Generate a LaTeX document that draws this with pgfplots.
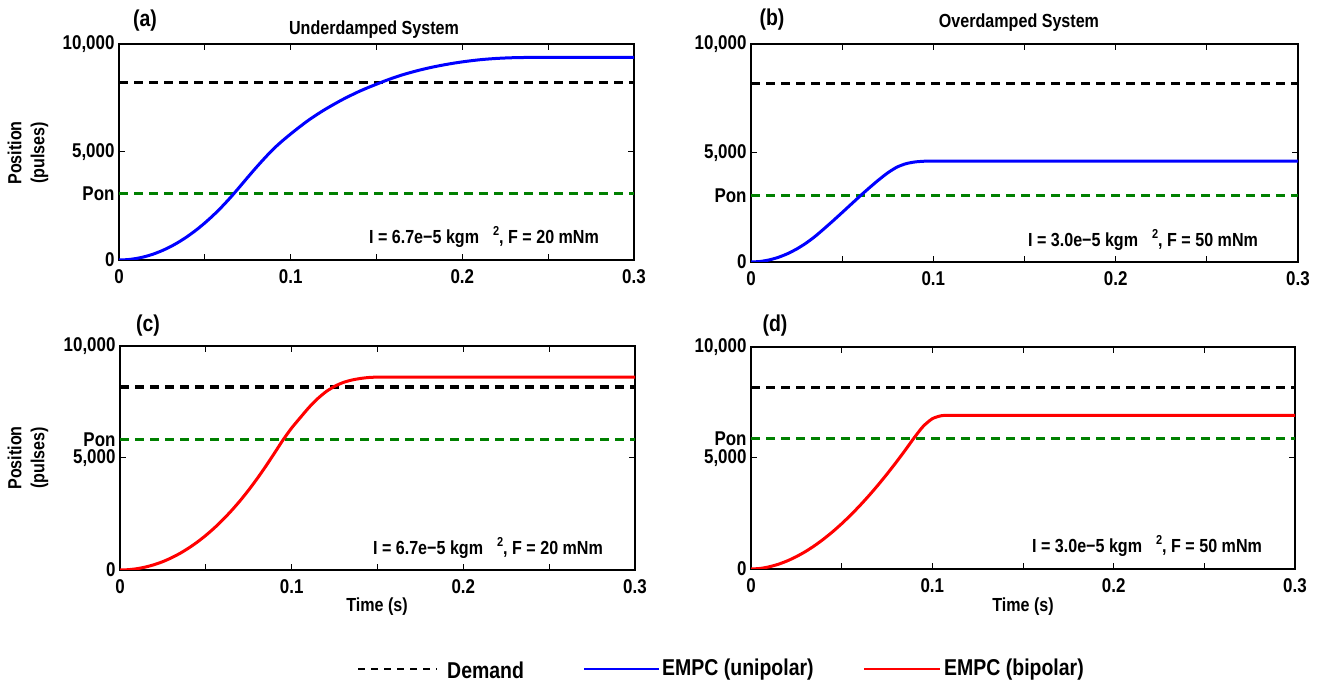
\documentclass[border=0pt]{standalone}
\usepackage{pgfplots}
\pgfplotsset{compat=1.18}
\usepackage{fontspec}
\setmainfont{Liberation Sans}[FakeStretch=0.85]
\definecolor{dgreen}{RGB}{0,128,0}
\newcommand{\fs}{\fontsize{19}{23}\selectfont\bfseries}
\newcommand{\ft}{\fontsize{20}{23}\selectfont\bfseries}
\newcommand{\fg}{\fontsize{23}{26}\selectfont\bfseries}
\newcommand{\fl}{\fontsize{23}{26}\selectfont\bfseries}
\newcommand{\sq}{\raisebox{8bp}{\fontsize{13}{13}\selectfont 2}}

\pgfplotsset{
  panel/.style={
    scale only axis,
    anchor=south west,
    xmin=0, xmax=0.3, ymin=0, ymax=10000,
    scaled y ticks=false, scaled x ticks=false,
    xtick={0,0.05,0.1,0.15,0.2,0.25,0.3},
    xticklabels={0,,0.1,,0.2,,0.3},
    ytick={0,5000,10000},
    yticklabels={0,{5,000},{10,000}},
    major tick length=6bp,
    tick style={black, line width=1bp},
    axis line style={line width=1.2bp},
    tick label style={font=\ft},
    xticklabel style={yshift=-6bp},
    yticklabel style={xshift=-1bp},
    extra y tick style={major tick length=0pt},
  },
  demand/.style={black, line width=3.1bp, dash pattern=on 9bp off 6bp},
  pon/.style={dgreen, line width=3.1bp, dash pattern=on 9bp off 6bp},
  uni/.style={blue, line width=3bp, smooth, tension=0.4},
  bi/.style={red, line width=3bp, smooth, tension=0.4},
}

\begin{document}
\begin{tikzpicture}
\useasboundingbox (0,0) rectangle (1320bp,683bp);

% (a)
\begin{axis}[panel, at={(119bp,423bp)}, width=515bp, height=216bp,
  extra y ticks={3080}, extra y tick labels={Pon}]
\addplot[demand] coordinates {(0,8210) (0.3,8210)};
\addplot[pon] coordinates {(0,3080) (0.3,3080)};
\addplot[uni] coordinates {
(0,0) (0.005,17) (0.01,69) (0.015,154) (0.02,274) (0.025,429) (0.03,617) (0.035,840)
(0.04,1098) (0.045,1389) (0.05,1715) (0.055,2075) (0.06,2470) (0.065,2898)
(0.07,3359) (0.075,3829) (0.08,4289) (0.085,4729) (0.09,5144) (0.095,5504)
(0.10,5834) (0.105,6149) (0.11,6449) (0.115,6719) (0.12,6969) (0.125,7199)
(0.13,7419) (0.135,7619) (0.14,7809) (0.145,7979) (0.15,8139) (0.155,8294)
(0.16,8439) (0.165,8569) (0.17,8684) (0.175,8789) (0.18,8884) (0.185,8969)
(0.19,9044) (0.195,9112) (0.20,9172) (0.205,9224) (0.21,9269) (0.215,9304)
(0.22,9332) (0.225,9352) (0.23,9366) (0.235,9374) (0.24,9378) (0.25,9380) (0.30,9380)};
\end{axis}

% (b)
\begin{axis}[panel, at={(751bp,421bp)}, width=547bp, height=218bp,
  extra y ticks={3040}, extra y tick labels={Pon}]
\addplot[demand] coordinates {(0,8200) (0.3,8200)};
\addplot[pon] coordinates {(0,3040) (0.3,3040)};
\addplot[uni] coordinates {
(0,0) (0.005,24) (0.01,95) (0.015,214) (0.02,380) (0.025,594) (0.03,855) (0.035,1164)
(0.04,1520) (0.045,1890) (0.05,2270) (0.055,2655) (0.06,3040) (0.065,3410)
(0.07,3765) (0.075,4090) (0.08,4350) (0.085,4510) (0.09,4590) (0.095,4622)
(0.10,4630) (0.11,4630) (0.30,4630)};
\end{axis}

% (c)
\begin{axis}[panel, at={(120bp,113bp)}, width=515bp, height=224bp,
  extra y ticks={5820}, extra y tick labels={Pon}]
\addplot[demand] coordinates {(0,8170) (0.3,8170)};
\addplot[pon] coordinates {(0,5820) (0.3,5820)};
\addplot[bi] coordinates {
(0,0) (0.005,15) (0.01,60) (0.015,135) (0.02,240) (0.025,375) (0.03,545) (0.035,745)
(0.04,980) (0.045,1245) (0.05,1545) (0.055,1880) (0.06,2250) (0.065,2655)
(0.07,3095) (0.075,3575) (0.08,4090) (0.085,4640) (0.09,5220) (0.095,5810)
(0.10,6340) (0.105,6800) (0.11,7250) (0.115,7640) (0.12,7960) (0.125,8200)
(0.13,8370) (0.135,8480) (0.14,8550) (0.145,8595) (0.15,8610) (0.16,8612) (0.30,8612)};
\end{axis}

% (d)
\begin{axis}[panel, at={(751bp,114bp)}, width=544bp, height=222bp,
  extra y ticks={5860}, extra y tick labels={Pon}]
\addplot[demand] coordinates {(0,8195) (0.3,8195)};
\addplot[pon] coordinates {(0,5860) (0.3,5860)};
\addplot[bi] coordinates {
(0,0) (0.005,25) (0.01,98) (0.015,212) (0.02,365) (0.025,557) (0.03,784) (0.035,1048)
(0.04,1346) (0.045,1677) (0.05,2039) (0.055,2432) (0.06,2853) (0.065,3302)
(0.07,3777) (0.075,4277) (0.08,4801) (0.085,5347) (0.09,5914) (0.095,6430)
(0.10,6770) (0.105,6905) (0.11,6920) (0.12,6920) (0.30,6920)};
\end{axis}

% panel letters and titles
\node[font=\fl] at (145bp,662bp) {(a)};
\node[font=\fl] at (772bp,663bp) {(b)};
\node[font=\fl] at (148bp,357bp) {(c)};
\node[font=\fl] at (775bp,357bp) {(d)};
\node[font=\fs] at (374bp,653bp) {Underdamped System};
\node[font=\fs] at (1019bp,660bp) {Overdamped System};

% y labels
\node[font=\fs, rotate=90, align=center] at (28bp,530bp) {Position\\(pulses)};
\node[font=\fs, rotate=90, align=center] at (28bp,225bp) {Position\\(pulses)};

% x labels
\node[font=\fs] at (377bp,76bp) {Time (s)};
\node[font=\fs] at (1023bp,76bp) {Time (s)};

% annotations
\node[font=\fs] at (484bp,446bp) {I = 6.7e−5 kgm\hspace{14bp}\sq, F = 20 mNm};
\node[font=\fs] at (1143bp,443bp) {I = 3.0e−5 kgm\hspace{14bp}\sq, F = 50 mNm};
\node[font=\fs] at (488bp,135bp) {I = 6.7e−5 kgm\hspace{14bp}\sq, F = 20 mNm};
\node[font=\fs] at (1147bp,137bp) {I = 3.0e−5 kgm\hspace{14bp}\sq, F = 50 mNm};

% legend
\draw[black, line width=2.2bp, dash pattern=on 7bp off 6bp] (358bp,14bp) -- (437bp,14bp);
\node[anchor=west, inner sep=0pt, font=\fg] at (447bp,13bp) {Demand};
\draw[blue, line width=2.8bp] (584bp,14bp) -- (659bp,14bp);
\node[anchor=west, inner sep=0pt, font=\fg] at (662bp,13bp) {EMPC (unipolar)};
\draw[red, line width=2.8bp] (864bp,14bp) -- (940bp,14bp);
\node[anchor=west, inner sep=0pt, font=\fg] at (944bp,13bp) {EMPC (bipolar)};
\end{tikzpicture}
\end{document}
